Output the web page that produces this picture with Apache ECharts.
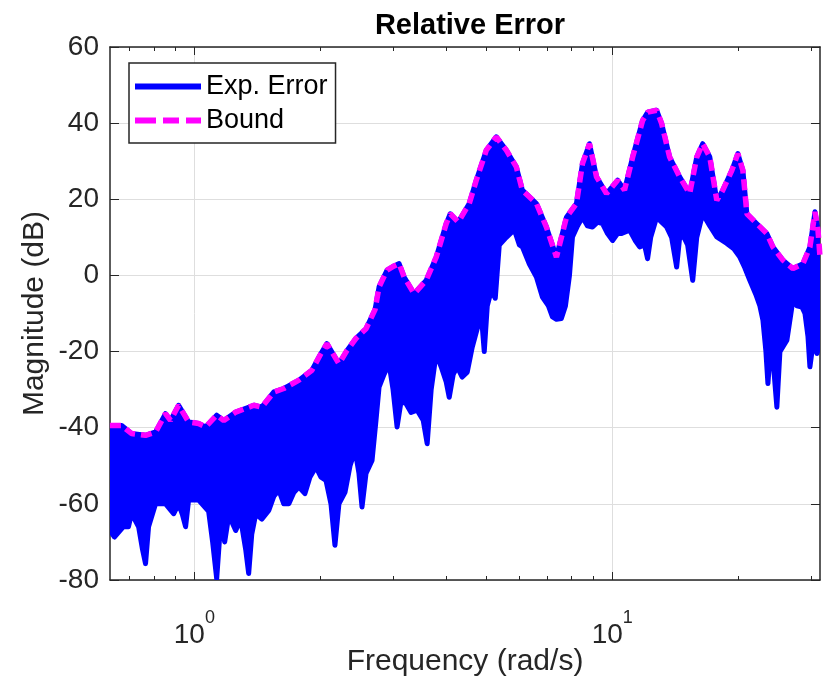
<!DOCTYPE html>
<html>
<head>
<meta charset="utf-8">
<title>Relative Error</title>
<script src="https://cdn.jsdelivr.net/npm/echarts@6/dist/echarts.min.js"></script>
<style>
  html, body { margin: 0; padding: 0; background: #fff; }
  #chart { width: 823px; height: 676px; }
</style>
</head>
<body>
<div id="chart"></div>
<script>
// frequency range of the plot (rad/s)
const freqMin = 0.6283;
const freqMax = 31.416;

// upper bound curve (magenta dashed)
const boundFreq = [0.628, 0.670, 0.707, 0.764, 0.808, 0.853, 0.877, 0.917, 0.969, 1.024,
  1.064, 1.131, 1.176, 1.256, 1.388, 1.450, 1.550, 1.637, 1.779, 1.911,
  2.009, 2.076, 2.218, 2.319, 2.437, 2.575, 2.706, 2.767, 2.892, 3.006,
  3.090, 3.177, 3.357, 3.586, 3.791, 4.006, 4.096, 4.281, 4.548, 4.728,
  4.996, 5.279, 5.579, 5.895, 6.094, 6.585, 6.958, 7.353, 7.770, 8.210,
  8.487, 8.822, 9.170, 9.690, 10.30, 10.70, 11.19, 11.82, 12.16, 12.77,
  13.13, 13.72, 14.50, 15.32, 15.93, 16.46, 17.12, 17.79, 18.39, 19.33,
  19.98, 20.54, 21.00, 22.18, 23.44, 24.23, 25.61, 27.06, 28.60, 29.72,
  30.56, 31.07, 31.42];
const boundDb = [-39.4, -39.4, -41.5, -42, -41.1, -36.3, -38.1, -34.1, -38.5, -38.9,
  -39.8, -36.7, -38.1, -35.9, -34.1, -34.6, -30.6, -29.7, -27.5, -24.9,
  -20.5, -17.9, -23.2, -19.7, -16.5, -14, -9, -3, 1.4, 2.5,
  3.1, -0.4, -4.8, -1.3, 4.8, 13.6, 16.2, 14, 18.9, 25,
  32.9, 36.4, 32.9, 28.5, 22.4, 18.9, 12.7, 4.8, 15.3, 18.9,
  29.4, 34.6, 25.9, 21.5, 25, 22.4, 31.1, 40.7, 42.9, 43.4,
  39.9, 31.1, 25.9, 21.5, 31.1, 34.6, 31.1, 19.7, 22.4, 27.6,
  32, 27.6, 16.2, 13.6, 11, 7.5, 4, 1.8, 3.1, 7.5,
  16.7, 11.9, 4.8];

// lower edge of the experimental error trace (blue), its top follows the bound
const lowFreq = [0.628, 0.6438, 0.6768, 0.6957, 0.7073, 0.7355, 0.7516, 0.7642, 0.7770, 0.8077,
  0.8535, 0.8920, 0.9170, 0.9374, 0.9530, 0.9689, 1.024, 1.082, 1.106, 1.131,
  1.156, 1.182, 1.209, 1.256, 1.291, 1.327, 1.349, 1.372, 1.403, 1.450,
  1.507, 1.550, 1.593, 1.637, 1.683, 1.730, 1.779, 1.839, 1.890, 1.954,
  2.009, 2.065, 2.123, 2.170, 2.218, 2.293, 2.358, 2.424, 2.477, 2.519,
  2.575, 2.662, 2.721, 2.767, 2.844, 2.924, 2.989, 3.056, 3.124, 3.211,
  3.301, 3.413, 3.528, 3.607, 3.687, 3.791, 3.896, 4.006, 4.073, 4.164,
  4.256, 4.375, 4.498, 4.624, 4.753, 4.859, 4.940, 5.023, 5.135, 5.249,
  5.366, 5.579, 5.831, 5.995, 6.094, 6.334, 6.585, 6.806, 7.036, 7.193,
  7.353, 7.555, 7.727, 7.900, 8.032, 8.257, 8.487, 8.726, 8.970, 9.221,
  9.478, 9.744, 10.02, 10.30, 10.53, 11.00, 11.37, 11.63, 11.95, 12.15,
  12.36, 12.77, 13.13, 13.50, 13.87, 14.26, 14.50, 14.83, 15.15, 15.58,
  15.93, 16.46, 17.12, 17.79, 18.80, 19.54, 20.20, 20.76, 21.34, 22.06,
  22.56, 22.94, 23.32, 23.58, 23.97, 24.37, 24.77, 25.19, 26.18, 27.06,
  27.67, 28.44, 28.92, 29.40, 29.72, 30.22, 30.90, 31.42];
const lowDb = [-67, -68.7, -66, -66, -62.5, -66, -72, -75.7, -66, -60,
  -60, -62.6, -60, -63, -66, -59, -59, -62, -70, -79.6,
  -65, -70, -63, -67, -64, -72, -78.3, -68, -62.6, -64,
  -61.7, -58, -56.4, -60, -60, -57, -55.6, -57.3, -53, -50.3,
  -53, -53.8, -60, -70.9, -60, -57, -50, -45.9, -52, -60.8,
  -52, -48.6, -38, -29.3, -26, -23.2, -30, -39.8, -33, -33.7,
  -36, -35.4, -38, -44.2, -30, -20.5, -24, -28, -32, -26,
  -24, -26.7, -25.4, -18.8, -14, -10, -20, -8, -4, -6,
  8, 10, 12, 8, 7.5, 3, -0.4, -5.7, -8, -10.9,
  -11.5, -11.3, -8, 0, 10.1, 13, 15.3, 13, 12.7, 14,
  13.6, 11, 9.2, 11, 11, 11.9, 9, 7.5, 8, 4.4,
  10, 15.3, 14, 12.7, 10, 2.2, 10, 10.1, 8, -1.3,
  10, 16.2, 13, 10.1, 8.4, 7, 4.8, 2, -1.3, -5,
  -8, -11.8, -20, -28.4, -18, -25, -34.6, -20, -17, -6.5,
  -8, -8.3, -10, -16, -24, -18, -20.5, -18];

// axis ticks
const majorFreqTicks = [1, 10];
const minorFreqTicks = [0.7, 0.8, 0.9, 2, 3, 4, 5, 6, 7, 8, 9, 20, 30];

const BLUE = '#0000ff';
const MAGENTA = '#ff00ff';
const AXIS_COLOR = '#262626';
const GRID_COLOR = '#dedede';
const FONT = '"Liberation Sans", Arial, Helvetica, sans-serif';

const boundData = boundFreq.map((f, i) => [f, boundDb[i]]);
// closed outline: along the bound, then back along the lower edge
const errOutline = boundData.concat(lowFreq.map((f, i) => [f, lowDb[i]]).reverse());

function logAxis(position, extra) {
  return Object.assign({
    type: 'log',
    logBase: 10,
    min: freqMin,
    max: freqMax,
    position: position,
    axisLine: { show: false, onZero: false },
    axisTick: { show: false },
    axisLabel: { show: false },
    splitLine: { show: false }
  }, extra);
}

const chart = echarts.init(document.getElementById('chart'));

chart.setOption({
  animation: false,
  backgroundColor: '#fff',
  textStyle: { fontFamily: FONT },
  title: {
    text: 'Relative Error',
    left: 465,
    textAlign: 'center',
    top: 6,
    textStyle: { fontSize: 29, fontWeight: 'bold', color: '#000', fontFamily: FONT }
  },
  grid: { left: 110, top: 47, width: 710, height: 533, containLabel: false, outerBoundsMode: 'none' },
  legend: {
    orient: 'vertical',
    left: 129,
    top: 63,
    padding: [10, 8, 9, 6],
    itemGap: 7,
    itemWidth: 66,
    itemHeight: 26,
    selectedMode: false,
    backgroundColor: '#fff',
    borderColor: AXIS_COLOR,
    borderWidth: 1.5,
    borderRadius: 0,
    textStyle: { fontSize: 27, color: '#000', fontFamily: FONT, lineHeight: 26 },
    data: [
      { name: 'Exp. Error', icon: 'path://M0,0H66V6H0Z', itemStyle: { color: BLUE } },
      { name: 'Bound', icon: 'path://M0,0H21V6H0Z M28,0H44V6H28Z M51,0H66V6H51Z', itemStyle: { color: MAGENTA } }
    ]
  },
  xAxis: [
    logAxis('bottom', {
      name: 'Frequency (rad/s)',
      nameLocation: 'middle',
      nameGap: 67,
      nameMoveOverlap: false,
      nameTextStyle: { fontSize: 30, color: AXIS_COLOR, fontFamily: FONT },
      axisLine: { show: true, onZero: false, lineStyle: { color: AXIS_COLOR, width: 1.5 } },
      axisTick: { show: true, inside: true, length: 8, customValues: majorFreqTicks, lineStyle: { color: AXIS_COLOR } },
      axisLabel: {
        show: true,
        customValues: majorFreqTicks,
        margin: 29,
        color: AXIS_COLOR,
        formatter: function (v) {
          return '{b|10}{sup|' + Math.round(Math.log10(v)) + '}';
        },
        rich: {
          b: { fontSize: 28, fontFamily: FONT, color: AXIS_COLOR, lineHeight: 40, verticalAlign: 'bottom' },
          sup: { fontSize: 18, fontFamily: FONT, color: AXIS_COLOR, lineHeight: 40, verticalAlign: 'top' }
        }
      },
      splitLine: { show: true, lineStyle: { color: GRID_COLOR, width: 1 } }
    }),
    logAxis('bottom', {
      axisTick: { show: true, inside: true, length: 4, customValues: minorFreqTicks, lineStyle: { color: AXIS_COLOR } }
    }),
    logAxis('top', {
      axisLine: { show: true, onZero: false, lineStyle: { color: AXIS_COLOR, width: 1.5 } },
      axisTick: { show: true, inside: true, length: 8, customValues: majorFreqTicks, lineStyle: { color: AXIS_COLOR } }
    }),
    logAxis('top', {
      axisTick: { show: true, inside: true, length: 4, customValues: minorFreqTicks, lineStyle: { color: AXIS_COLOR } }
    })
  ],
  yAxis: [
    {
      type: 'value',
      min: -80,
      max: 60,
      interval: 20,
      position: 'left',
      name: 'Magnitude (dB)',
      nameLocation: 'middle',
      nameGap: 60,
      nameRotate: 90,
      nameMoveOverlap: false,
      nameTextStyle: { fontSize: 30, color: AXIS_COLOR, fontFamily: FONT },
      axisLine: { show: true, onZero: false, lineStyle: { color: AXIS_COLOR, width: 1.5 } },
      axisTick: { show: true, inside: true, length: 9, lineStyle: { color: AXIS_COLOR } },
      axisLabel: { fontSize: 28, color: AXIS_COLOR, margin: 11, fontFamily: FONT },
      splitLine: { show: true, lineStyle: { color: GRID_COLOR, width: 1 } }
    },
    {
      type: 'value',
      min: -80,
      max: 60,
      interval: 20,
      position: 'right',
      axisLine: { show: true, onZero: false, lineStyle: { color: AXIS_COLOR, width: 1.5 } },
      axisTick: { show: true, inside: true, length: 9, lineStyle: { color: AXIS_COLOR } },
      axisLabel: { show: false },
      splitLine: { show: false }
    }
  ],
  series: [
    {
      name: 'Exp. Error',
      type: 'custom',
      xAxisIndex: 0,
      yAxisIndex: 0,
      itemStyle: { color: BLUE },
      data: errOutline,
      z: 2,
      renderItem: function (params, api) {
        if (params.dataIndex !== 0) return;
        const pts = errOutline.map(p => api.coord(p));
        const cs = params.coordSys;
        return {
          type: 'polygon',
          shape: { points: pts },
          style: { fill: BLUE, stroke: BLUE, lineWidth: 5, lineJoin: 'round' },
          clipPath: { type: 'rect', shape: { x: cs.x, y: cs.y, width: cs.width, height: cs.height } }
        };
      }
    },
    {
      name: 'Bound',
      type: 'line',
      xAxisIndex: 0,
      yAxisIndex: 0,
      data: boundData,
      symbol: 'none',
      z: 3,
      itemStyle: { color: MAGENTA },
      lineStyle: { color: MAGENTA, width: 5.5, type: [11, 6] }
    }
  ]
});
</script>
</body>
</html>
